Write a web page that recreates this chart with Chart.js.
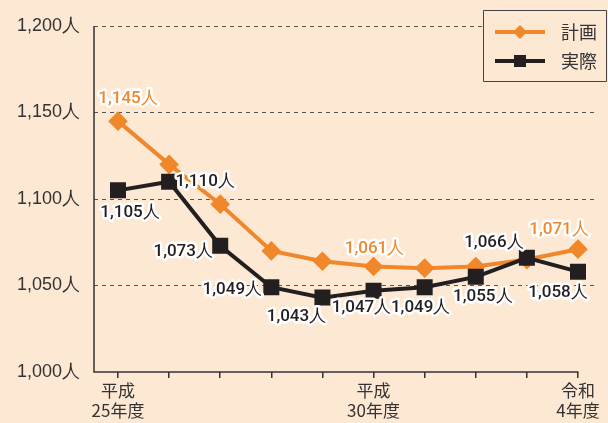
<!DOCTYPE html>
<html><head><meta charset="utf-8">
<script src="https://cdn.jsdelivr.net/npm/chart.js@4/dist/chart.umd.min.js"></script>
<style>
html,body{margin:0;padding:0;background:#fde8d4;}
#wrap{width:608px;height:423px;position:relative;}
</style></head>
<body><div id="wrap"><canvas id="c"></canvas></div>
<script>
const categories = ['平成25年度','平成26年度','平成27年度','平成28年度','平成29年度','平成30年度','令和元年度','令和2年度','令和3年度','令和4年度'];
const xTickLabels = [['平成','25年度'],'','','','',['平成','30年度'],'','','',['令和','4年度']];
const planValues = [1145,1120,1097,1070,1064,1061,1060,1061,1065,1071];
const actualValues = [1105,1110,1073,1049,1043,1047,1049,1055,1066,1058];
const planLabelIdx = [0,5,9];
const seriesNames = ['計画','実際'];
const yMin = 1000, yMax = 1200, yStep = 50;

const ORANGE = '#f0872a', BLACK = '#231f20', TXT = '#333333';
const FIRST_PX = 118, LAST_PX = 578;
const planOffsets = {0:[10,-22],5:[1,-18],9:[-19,-19]};
const actualOffsets = [[12,22],[36,0],[-37,6],[-39,3],[-26,19],[-12,17],[-4,21],[7,20],[-33,-15],[-20,21]];

function fmt(v){return v.toLocaleString('en-US')+'人';}

const deco = {
  id:'deco',
  beforeDatasetsDraw(chart){
    const ctx=chart.ctx, a=chart.chartArea, xs=chart.scales.x;
    ctx.save();
    ctx.strokeStyle=TXT; ctx.lineWidth=1.5;
    ctx.beginPath();
    ctx.moveTo(a.left, a.top); ctx.lineTo(a.left, a.bottom);
    ctx.lineTo(xs.getPixelForValue(categories.length-1)+0.5, a.bottom);
    ctx.stroke();
    ctx.restore();
  },
  afterDatasetsDraw(chart){
    const ctx=chart.ctx;
    ctx.save();
    ctx.font='500 17px Roboto, "Liberation Sans", sans-serif';
    ctx.textAlign='center'; ctx.textBaseline='middle';
    ctx.lineJoin='round';
    const draw=(txt,x,y,col)=>{
      ctx.strokeStyle='#ffffff'; ctx.lineWidth=5; ctx.strokeText(txt,x,y);
      ctx.fillStyle=col; ctx.fillText(txt,x,y);
    };
    const m0=chart.getDatasetMeta(0).data, m1=chart.getDatasetMeta(1).data;
    actualValues.forEach((v,i)=>{
      const o=actualOffsets[i]; draw(fmt(v), m1[i].x+o[0], m1[i].y+o[1], BLACK);
    });
    planLabelIdx.forEach(i=>{
      const o=planOffsets[i]; draw(fmt(planValues[i]), m0[i].x+o[0], m0[i].y+o[1], ORANGE);
    });
    // legend
    ctx.fillStyle='#fde8d4';
    ctx.fillRect(483,10,124,72);
    ctx.strokeStyle='#444'; ctx.lineWidth=1;
    ctx.strokeRect(483.5,10.5,123,71);
    const rows=[{c:ORANGE,y:32,shape:'d'},{c:BLACK,y:61,shape:'s'}];
    rows.forEach((r,k)=>{
      ctx.strokeStyle=r.c; ctx.lineWidth=4;
      ctx.beginPath(); ctx.moveTo(495,r.y); ctx.lineTo(545,r.y); ctx.stroke();
      ctx.fillStyle=r.c;
      if(r.shape==='d'){ctx.beginPath();ctx.moveTo(520,r.y-7);ctx.lineTo(527,r.y);ctx.lineTo(520,r.y+7);ctx.lineTo(513,r.y);ctx.closePath();ctx.fill();}
      else ctx.fillRect(514,r.y-6,12,12);
      ctx.fillStyle=TXT; ctx.textAlign='left';
      ctx.font='18px "Noto Sans CJK JP", sans-serif';
      ctx.fillText(seriesNames[k],561,r.y);
    });
    ctx.restore();
  }
};

const chart = new Chart(document.getElementById('c'),{
  type:'line',
  data:{datasets:[
    {label:seriesNames[0],data:planValues.map((v,i)=>({x:i,y:v})),borderColor:ORANGE,backgroundColor:ORANGE,borderWidth:4,pointStyle:'rectRot',pointRadius:7,pointHoverRadius:7,order:2,tension:0},
    {label:seriesNames[1],data:actualValues.map((v,i)=>({x:i,y:v})),borderColor:BLACK,backgroundColor:BLACK,borderWidth:4,pointStyle:'rect',pointRadius:8.5,pointHoverRadius:8.5,order:1,tension:0}
  ]},
  options:{
    responsive:true,maintainAspectRatio:false,animation:false,
    layout:{padding:{top:26,left:0,right:0,bottom:0}},
    plugins:{legend:{display:false},tooltip:{enabled:false}},
    scales:{
      x:{type:'linear',min:-0.47,max:9.6,
        afterBuildTicks:s=>{s.ticks=categories.map((_,i)=>({value:i}));},
        afterFit:s=>{s.height=51;s.paddingLeft=0;s.paddingRight=0;},
        grid:{drawOnChartArea:false,drawTicks:true,tickLength:6,color:TXT,lineWidth:1.5},
        border:{display:false},
        ticks:{autoSkip:false,maxRotation:0,padding:2,color:TXT,
          font:{family:'"Noto Sans CJK JP", sans-serif',size:17,lineHeight:1.2},
          callback:(v,i)=>xTickLabels[i]}
      },
      y:{min:yMin,max:yMax,
        afterFit:s=>{s.width=94;},
        grid:{drawTicks:false,color:c=>c.tick&&c.tick.value===yMin?'rgba(0,0,0,0)':'#555',lineWidth:1},
        border:{display:false,dash:[4,4]},
        ticks:{stepSize:yStep,padding:14,color:TXT,
          font:{family:'"Liberation Sans", Arial, sans-serif',size:18},
          callback:v=>fmt(v)}
      }
    }
  },
  plugins:[deco]
});
// align category positions with the reference: first at FIRST_PX, last at LAST_PX
(function(){
  const a = chart.chartArea, n = categories.length-1;
  const ppu = (LAST_PX-FIRST_PX)/n;
  chart.options.scales.x.min = -(FIRST_PX-a.left)/ppu;
  chart.options.scales.x.max = n + (a.right-LAST_PX)/ppu;
  chart.update('none');
})();
</script></body></html>
